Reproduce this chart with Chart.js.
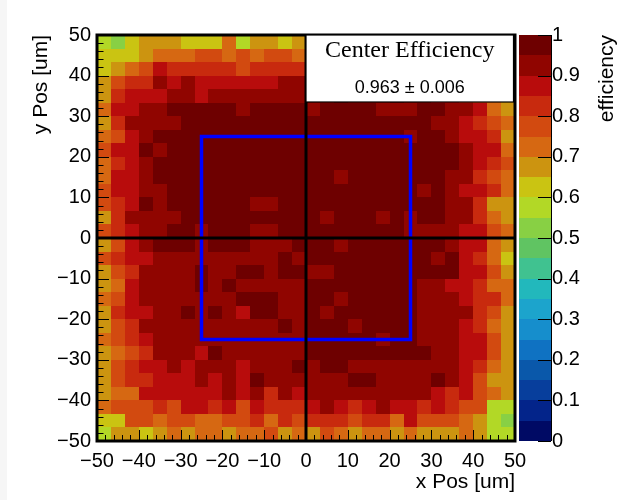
<!DOCTYPE html>
<html>
<head>
<meta charset="utf-8">
<script src="https://cdn.jsdelivr.net/npm/chart.js@4.4.1/dist/chart.umd.min.js"></script>
<style>
html, body { margin: 0; padding: 0; background: #fff; }
canvas { display: block; }
</style>
</head>
<body>
<canvas id="effMap" width="619" height="500"></canvas>
<script>
// binning of the efficiency map (um)
const X_MIN = -50, X_MAX = 50, Y_MIN = -50, Y_MAX = 50, N_BINS = 30;

const xTicks = [-50, -40, -30, -20, -10, 0, 10, 20, 30, 40, 50];
const yTicks = [-50, -40, -30, -20, -10, 0, 10, 20, 30, 40, 50];
const zTicks = [0, 0.1, 0.2, 0.3, 0.4, 0.5, 0.6, 0.7, 0.8, 0.9, 1];

// 20 colour levels, 0 -> 1
const paletteColors = [
  '#000a64', '#03248a', '#073e9c', '#0a58aa', '#0f72c2',
  '#168ecc', '#1ca4cc', '#22b8bc', '#40c290', '#60c462',
  '#88d044', '#b2d826', '#cac412', '#cc9410', '#d66812',
  '#d24a10', '#c82a0e', '#b80c0c', '#900500', '#6e0000'
];

// efficiency per bin, first row is the top (y = 50), columns go x = -50 .. 50
const effRows = [
  [0.58,0.53,0.63,0.68,0.68,0.68,0.63,0.63,0.63,0.73,0.58,0.68,0.68,0.63,0.68,0.63,0.68,0.68,0.63,0.68,0.68,0.68,0.63,0.68,0.68,0.63,0.68,0.68,0.63,0.58],
  [0.63,0.63,0.63,0.68,0.73,0.73,0.73,0.78,0.78,0.73,0.78,0.73,0.78,0.78,0.73,0.78,0.73,0.78,0.78,0.73,0.78,0.73,0.73,0.78,0.73,0.78,0.73,0.73,0.68,0.68],
  [0.63,0.68,0.73,0.78,0.88,0.83,0.83,0.83,0.83,0.83,0.78,0.83,0.83,0.83,0.83,0.83,0.83,0.88,0.83,0.83,0.83,0.83,0.88,0.83,0.83,0.78,0.78,0.73,0.68,0.63],
  [0.68,0.78,0.83,0.83,0.93,0.88,0.93,0.88,0.88,0.88,0.88,0.88,0.88,0.93,0.93,0.93,0.88,0.93,0.93,0.88,0.88,0.93,0.88,0.88,0.88,0.83,0.78,0.73,0.68,0.68],
  [0.68,0.83,0.88,0.88,0.88,0.93,0.93,0.88,0.93,0.93,0.93,0.93,0.93,0.93,0.93,0.93,0.93,0.97,0.93,0.93,0.93,0.97,0.93,0.93,0.88,0.88,0.83,0.78,0.73,0.68],
  [0.73,0.88,0.88,0.93,0.93,0.97,0.97,0.97,0.97,0.97,0.93,0.97,0.97,0.97,0.97,0.93,0.97,0.97,0.97,0.97,0.93,0.93,0.93,0.97,0.97,0.93,0.93,0.88,0.73,0.68],
  [0.68,0.83,0.93,0.93,0.93,0.93,0.97,0.97,0.97,0.97,0.97,0.97,0.97,0.97,0.97,0.97,0.97,0.97,0.97,0.97,0.97,0.97,0.97,0.97,0.93,0.93,0.88,0.83,0.78,0.73],
  [0.73,0.78,0.88,0.93,0.97,0.97,0.97,0.97,0.97,0.97,0.97,0.97,0.97,0.97,0.97,0.97,0.97,0.97,0.97,0.97,0.97,0.97,0.93,0.97,0.97,0.93,0.88,0.88,0.83,0.68],
  [0.78,0.88,0.88,0.97,0.93,0.97,0.97,0.97,0.97,0.97,0.97,0.97,0.97,0.97,0.97,0.97,0.97,0.97,0.97,0.97,0.97,0.97,0.97,0.97,0.97,0.97,0.93,0.88,0.88,0.73],
  [0.73,0.83,0.88,0.93,0.97,0.97,0.97,0.97,0.97,0.97,0.97,0.97,0.97,0.97,0.97,0.97,0.97,0.97,0.97,0.97,0.97,0.97,0.97,0.97,0.97,0.97,0.93,0.88,0.83,0.78],
  [0.73,0.88,0.88,0.93,0.97,0.97,0.97,0.97,0.97,0.97,0.97,0.97,0.97,0.97,0.97,0.97,0.97,0.93,0.97,0.97,0.97,0.97,0.97,0.97,0.97,0.93,0.93,0.83,0.78,0.73],
  [0.78,0.88,0.88,0.93,0.93,0.97,0.97,0.97,0.97,0.97,0.97,0.97,0.97,0.97,0.97,0.97,0.97,0.97,0.97,0.97,0.97,0.97,0.97,0.93,0.97,0.93,0.88,0.88,0.83,0.73],
  [0.78,0.83,0.88,0.97,0.93,0.97,0.97,0.97,0.97,0.97,0.97,0.93,0.93,0.97,0.97,0.97,0.97,0.97,0.97,0.97,0.97,0.97,0.97,0.97,0.97,0.93,0.93,0.83,0.68,0.68],
  [0.68,0.83,0.93,0.93,0.93,0.93,0.97,0.97,0.97,0.97,0.97,0.97,0.97,0.97,0.97,0.97,0.93,0.97,0.97,0.97,0.93,0.97,0.93,0.97,0.97,0.93,0.93,0.83,0.73,0.68],
  [0.78,0.83,0.88,0.93,0.93,0.97,0.97,0.93,0.97,0.97,0.97,0.93,0.93,0.97,0.97,0.97,0.97,0.97,0.97,0.97,0.97,0.97,0.93,0.93,0.93,0.93,0.88,0.88,0.78,0.73],
  [0.68,0.78,0.88,0.93,0.97,0.97,0.97,0.93,0.97,0.97,0.97,0.93,0.93,0.93,0.97,0.97,0.97,0.93,0.97,0.97,0.97,0.97,0.97,0.97,0.97,0.93,0.88,0.88,0.73,0.68],
  [0.78,0.83,0.88,0.88,0.93,0.93,0.93,0.93,0.93,0.93,0.93,0.93,0.93,0.97,0.93,0.97,0.97,0.97,0.97,0.97,0.97,0.97,0.97,0.97,0.93,0.97,0.88,0.83,0.73,0.63],
  [0.68,0.78,0.83,0.93,0.93,0.93,0.93,0.97,0.93,0.93,0.97,0.97,0.93,0.97,0.97,0.93,0.93,0.97,0.97,0.97,0.97,0.97,0.97,0.97,0.97,0.97,0.88,0.88,0.78,0.68],
  [0.68,0.73,0.88,0.93,0.93,0.93,0.93,0.97,0.93,0.97,0.93,0.93,0.93,0.93,0.93,0.97,0.97,0.97,0.97,0.97,0.97,0.97,0.97,0.93,0.93,0.88,0.88,0.83,0.73,0.73],
  [0.73,0.78,0.88,0.93,0.93,0.93,0.93,0.93,0.93,0.93,0.97,0.97,0.97,0.93,0.93,0.97,0.97,0.93,0.97,0.97,0.97,0.97,0.97,0.93,0.93,0.93,0.88,0.83,0.83,0.73],
  [0.68,0.83,0.88,0.88,0.93,0.93,0.97,0.93,0.97,0.93,0.88,0.97,0.97,0.93,0.93,0.97,0.93,0.97,0.97,0.97,0.97,0.97,0.97,0.93,0.93,0.93,0.93,0.83,0.78,0.68],
  [0.68,0.78,0.83,0.93,0.93,0.93,0.93,0.93,0.93,0.93,0.93,0.93,0.93,0.97,0.93,0.97,0.97,0.97,0.93,0.97,0.97,0.97,0.97,0.93,0.93,0.93,0.88,0.83,0.73,0.68],
  [0.73,0.78,0.83,0.88,0.93,0.93,0.93,0.93,0.93,0.93,0.93,0.93,0.93,0.93,0.93,0.97,0.97,0.97,0.97,0.97,0.93,0.97,0.97,0.93,0.93,0.93,0.88,0.88,0.78,0.68],
  [0.68,0.73,0.78,0.83,0.93,0.93,0.93,0.88,0.97,0.93,0.93,0.93,0.93,0.93,0.93,0.97,0.97,0.97,0.97,0.97,0.97,0.97,0.97,0.97,0.93,0.93,0.88,0.88,0.78,0.68],
  [0.68,0.78,0.83,0.88,0.88,0.93,0.88,0.93,0.93,0.93,0.88,0.93,0.93,0.93,0.97,0.93,0.97,0.97,0.93,0.93,0.93,0.93,0.93,0.93,0.93,0.93,0.88,0.83,0.73,0.68],
  [0.68,0.78,0.83,0.83,0.88,0.88,0.88,0.93,0.88,0.93,0.88,0.97,0.93,0.93,0.93,0.93,0.93,0.93,0.97,0.97,0.93,0.93,0.93,0.93,0.97,0.93,0.88,0.78,0.68,0.68],
  [0.68,0.73,0.73,0.88,0.88,0.88,0.88,0.88,0.88,0.93,0.88,0.93,0.83,0.93,0.88,0.93,0.93,0.93,0.93,0.93,0.93,0.93,0.93,0.93,0.88,0.83,0.88,0.78,0.73,0.68],
  [0.73,0.78,0.78,0.78,0.83,0.78,0.88,0.88,0.83,0.88,0.78,0.88,0.83,0.83,0.83,0.88,0.93,0.88,0.83,0.88,0.93,0.88,0.88,0.83,0.88,0.83,0.78,0.78,0.58,0.58],
  [0.63,0.63,0.78,0.78,0.73,0.78,0.78,0.73,0.73,0.78,0.78,0.83,0.73,0.83,0.78,0.83,0.83,0.83,0.78,0.83,0.83,0.73,0.88,0.78,0.78,0.78,0.73,0.68,0.58,0.53],
  [0.58,0.68,0.68,0.63,0.68,0.73,0.68,0.73,0.73,0.68,0.73,0.73,0.78,0.68,0.73,0.68,0.78,0.73,0.68,0.73,0.73,0.68,0.73,0.68,0.68,0.68,0.73,0.68,0.58,0.58]
];

// central region and its mean efficiency
const centerBox = { xMin: -25, xMax: 25, yMin: -25, yMax: 25 };
const centerEff = 0.963, centerErr = 0.006;

const SANS = "'Liberation Sans', Arial, sans-serif";
const SERIF = "'Liberation Serif', 'Times New Roman', serif";
const TICK_FONT = { family: SANS, size: 20 };
const TITLE_FONT = { family: SANS, size: 21 };

function fmtTick(v) {
  return v < 0 ? '\u2212' + Math.abs(v) : String(v);
}

function levelColor(v) {
  const i = Math.max(0, Math.min(paletteColors.length - 1, Math.floor(v * paletteColors.length + 1e-9)));
  return paletteColors[i];
}

// keep tick labels from pushing the plot frame around
function noEdgePadding(s) {
  s.paddingTop = 0;
  s.paddingBottom = 0;
  s.paddingLeft = 0;
  s.paddingRight = 0;
}

const mapPlugin = {
  id: 'effMap',
  beforeDraw(chart) {
    const ctx = chart.ctx;
    ctx.save();
    ctx.fillStyle = '#ffffff';
    ctx.fillRect(0, 0, chart.width, chart.height);
    ctx.fillStyle = '#f6f6f6';
    ctx.fillRect(0, 0, 7, chart.height);
    ctx.restore();
  },
  afterDatasetsDraw(chart) {
    const ctx = chart.ctx;
    const xs = chart.scales.x, ys = chart.scales.y, zs = chart.scales.z;
    const area = chart.chartArea;
    const bw = (X_MAX - X_MIN) / N_BINS, bh = (Y_MAX - Y_MIN) / N_BINS;
    ctx.save();

    // bins
    effRows.forEach((row, r) => {
      const yTop = Y_MAX - r * bh;
      row.forEach((v, c) => {
        const xLeft = X_MIN + c * bw;
        const px0 = Math.round(xs.getPixelForValue(xLeft));
        const px1 = Math.round(xs.getPixelForValue(xLeft + bw));
        const py0 = Math.round(ys.getPixelForValue(yTop));
        const py1 = Math.round(ys.getPixelForValue(yTop - bh));
        ctx.fillStyle = levelColor(v);
        ctx.fillRect(px0, py0, px1 - px0, py1 - py0);
      });
    });

    // central region
    ctx.strokeStyle = '#0000ff';
    ctx.lineWidth = 3.5;
    ctx.strokeRect(
      xs.getPixelForValue(centerBox.xMin), ys.getPixelForValue(centerBox.yMax),
      xs.getPixelForValue(centerBox.xMax) - xs.getPixelForValue(centerBox.xMin),
      ys.getPixelForValue(centerBox.yMin) - ys.getPixelForValue(centerBox.yMax));

    // x = 0 and y = 0 lines
    ctx.strokeStyle = '#000';
    ctx.lineWidth = 3;
    ctx.beginPath();
    ctx.moveTo(xs.getPixelForValue(0), area.top);
    ctx.lineTo(xs.getPixelForValue(0), area.bottom);
    ctx.moveTo(area.left, ys.getPixelForValue(0));
    ctx.lineTo(area.right, ys.getPixelForValue(0));
    ctx.stroke();

    // axis ticks, drawn inside the frame
    ctx.lineWidth = 1;
    ctx.strokeStyle = '#000';
    ctx.beginPath();
    for (let v = X_MIN; v <= X_MAX; v += 2) {
      const len = v % 10 === 0 ? 11 : 6;
      const px = Math.round(xs.getPixelForValue(v)) + 0.5;
      ctx.moveTo(px, area.bottom);
      ctx.lineTo(px, area.bottom - len);
    }
    for (let v = Y_MIN; v <= Y_MAX; v += 2) {
      const len = v % 10 === 0 ? 12 : 6.5;
      const py = Math.round(ys.getPixelForValue(v)) + 0.5;
      ctx.moveTo(area.left, py);
      ctx.lineTo(area.left + len, py);
    }
    ctx.stroke();

    // frame
    ctx.lineWidth = 3;
    ctx.strokeRect(area.left, area.top, area.right - area.left, area.bottom - area.top);

    // stats box
    const bx0 = xs.getPixelForValue(0), bx1 = area.right - 1.5;
    const by0 = area.top, by1 = area.top + 67;
    ctx.fillStyle = '#fff';
    ctx.fillRect(bx0, by0, bx1 - bx0, by1 - by0);
    ctx.lineWidth = 1.2;
    ctx.strokeRect(bx0, by0, bx1 - bx0, by1 - by0);
    ctx.fillStyle = '#000';
    ctx.textAlign = 'center';
    ctx.textBaseline = 'middle';
    ctx.font = '24px ' + SERIF;
    ctx.fillText('Center Efficiency', (bx0 + bx1) / 2, by0 + 16);
    ctx.font = '18px ' + SANS;
    ctx.fillText(centerEff.toFixed(3) + ' \u00b1 ' + centerErr.toFixed(3), (bx0 + bx1) / 2, by0 + 53);

    // colour bar
    const cb0 = 519, cb1 = 551;
    const nLev = paletteColors.length;
    paletteColors.forEach((col, i) => {
      const y0 = Math.round(zs.getPixelForValue((i + 1) / nLev));
      const y1 = Math.round(zs.getPixelForValue(i / nLev));
      ctx.fillStyle = col;
      ctx.fillRect(cb0, y0, cb1 - cb0, y1 - y0);
    });
    ctx.lineWidth = 1;
    ctx.strokeStyle = '#000';
    ctx.beginPath();
    ctx.moveTo(cb1 + 0.5, area.top);
    ctx.lineTo(cb1 + 0.5, area.bottom);
    zTicks.forEach(v => {
      const py = Math.round(zs.getPixelForValue(v)) + 0.5;
      ctx.moveTo(cb1, py);
      ctx.lineTo(cb1 - 13, py);
    });
    ctx.stroke();

    // colour bar title
    ctx.save();
    ctx.translate(607, area.top);
    ctx.rotate(-Math.PI / 2);
    ctx.textAlign = 'right';
    ctx.textBaseline = 'middle';
    ctx.font = TITLE_FONT.size + 'px ' + SANS;
    ctx.fillStyle = '#000';
    ctx.fillText('efficiency', 0, 0);
    ctx.restore();

    ctx.restore();
  }
};

new Chart(document.getElementById('effMap'), {
  type: 'scatter',
  data: { datasets: [] },
  options: {
    responsive: false,
    animation: false,
    events: [],
    layout: { padding: { top: 35, left: 0, right: 0, bottom: 0 } },
    plugins: { legend: { display: false }, tooltip: { enabled: false } },
    scales: {
      x: {
        type: 'linear', position: 'bottom', min: X_MIN, max: X_MAX,
        afterBuildTicks(s) { s.ticks = xTicks.map(v => ({ value: v })); },
        afterFit(s) { s.height = 59; noEdgePadding(s); },
        grid: { display: false, drawTicks: false },
        border: { display: false },
        ticks: { autoSkip: false, maxRotation: 0, padding: 8, color: '#000',
                 font: TICK_FONT, callback: fmtTick },
        title: { display: true, text: 'x Pos [um]', align: 'end', color: '#000',
                 font: TITLE_FONT, padding: { top: 0, bottom: 5 } }
      },
      y: {
        type: 'linear', position: 'left', min: Y_MIN, max: Y_MAX,
        afterBuildTicks(s) { s.ticks = yTicks.map(v => ({ value: v })); },
        afterFit(s) { s.width = 97; noEdgePadding(s); },
        grid: { display: false, drawTicks: false },
        border: { display: false },
        ticks: { autoSkip: false, padding: 6, color: '#000',
                 font: TICK_FONT, callback: fmtTick },
        title: { display: true, text: 'y Pos [um]', align: 'end', color: '#000',
                 font: TITLE_FONT, padding: { top: 29, bottom: 0 } }
      },
      z: {
        type: 'linear', position: 'right', min: 0, max: 1,
        afterBuildTicks(s) { s.ticks = zTicks.map(v => ({ value: v })); },
        afterFit(s) { s.width = 104; noEdgePadding(s); },
        grid: { display: false, drawTicks: false },
        border: { display: false },
        ticks: { autoSkip: false, padding: 37, color: '#000',
                 font: TICK_FONT, callback: v => String(v) }
      }
    }
  },
  plugins: [mapPlugin]
});
</script>
</body>
</html>
